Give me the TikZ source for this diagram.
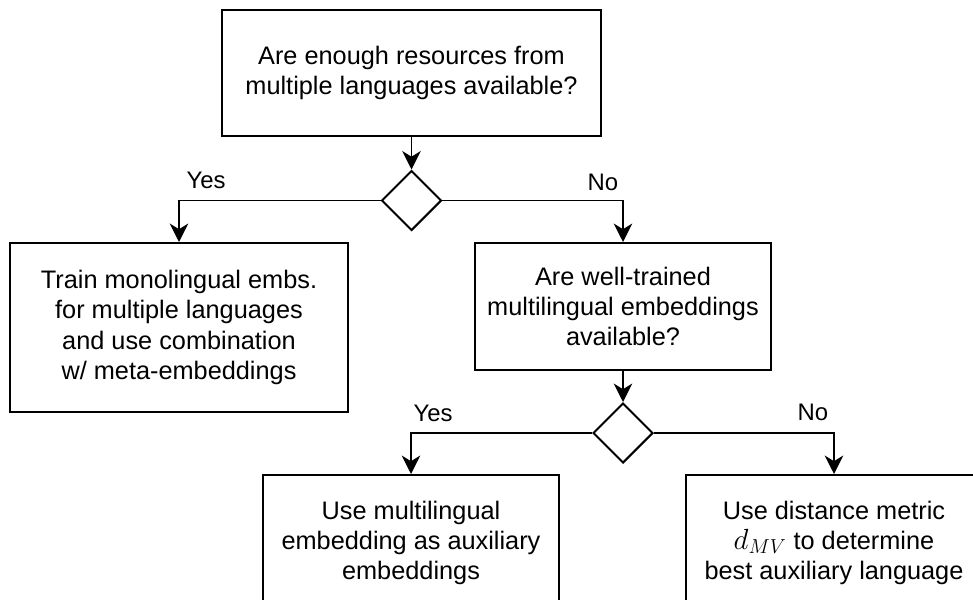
\documentclass[tikz,border=0pt]{standalone}
\usepackage{fontspec}
\setmainfont{Liberation Sans}
\usepackage{tikz}
\usetikzlibrary{arrows.meta,positioning,shapes.geometric}

\begin{document}
\begin{tikzpicture}[
    x=0.025cm, y=-0.025cm,
    box/.style={rectangle, draw=black, line width=1.4pt, fill=white, align=center, inner sep=0pt,
        font=\fontsize{18}{21.5}\selectfont},
    decision/.style={diamond, draw=black, line width=1.4pt, fill=white, inner sep=0pt,
        minimum width=1.5cm, minimum height=1.5cm},
    lbl/.style={font=\fontsize{17}{20}\selectfont},
    arrow/.style={-{Stealth[length=4.6mm, width=4.6mm, inset=1.4mm]}, line width=1.4pt, black},
]
    \useasboundingbox (0,0) rectangle (973,599);
    \clip (0,0) rectangle (973,599);

    \node[box, minimum width=9.475cm, minimum height=3.15cm] (resources) at (411.5,73)
        {Are enough resources from\\multiple languages available?};
    \node[decision] (dec1) at (411.5,200.5) {};
    \node[box, minimum width=8.45cm, minimum height=4.225cm] (mono) at (179,327.5)
        {Train monolingual embs.\\for multiple languages\\and use combination\\w/ meta-embeddings};
    \node[box, minimum width=7.4cm, minimum height=3.175cm] (trained) at (623,306.5)
        {Are well-trained\\multilingual embeddings\\available?};
    \node[decision] (dec2) at (623,433) {};
    \node[box, minimum width=7.375cm, minimum height=3.4cm] (multi) at (411,543)
        {Use multilingual\\embedding as auxiliary\\embeddings};
    \node[box, minimum width=7.4cm, minimum height=3.4cm] (distance) at (834,543)
        {Use distance metric\\{\fontsize{21}{21.5}\selectfont$d_{MV}$} to determine\\best auxiliary language};

    \draw[arrow] (resources) -- (dec1);
    \draw[arrow] (dec1.west) -| (mono.north);
    \draw[arrow] (dec1.east) -| (trained.north);
    \draw[arrow] (trained) -- (dec2);
    \draw[arrow] (dec2.west) -| (multi.north);
    \draw[arrow] (dec2.east) -| (distance.north);

    \node[lbl] (yes1) at (206,180) {Yes};
    \node[lbl] (no1) at (603,182) {No};
    \node[lbl] (yes2) at (433,413) {Yes};
    \node[lbl] (no2) at (813,412) {No};
\end{tikzpicture}
\end{document}
